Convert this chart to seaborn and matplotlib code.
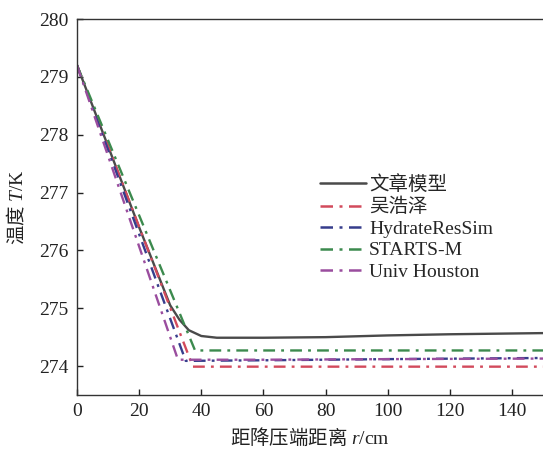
import numpy as np
import pandas as pd
import matplotlib
matplotlib.use("Agg")
import matplotlib.pyplot as plt
import seaborn as sns

# ---- data ----
series_names = ["文章模型", "吴浩泽", "HydrateResSim", "STARTS-M", "Univ Houston"]

x_model = [0, 10, 20, 30, 33, 36, 40, 45, 60, 80, 100, 120, 150]
t_model = [279.2, 277.8, 276.4, 275.05, 274.8, 274.62, 274.52, 274.49, 274.49, 274.5, 274.53, 274.55, 274.57]

x_wu = [0, 37.3, 60, 100, 150]
t_wu = [279.2, 273.99, 273.99, 273.99, 273.99]

x_hrs = [0, 35, 60, 100, 150]
t_hrs = [279.2, 274.09, 274.10, 274.12, 274.14]

x_starts = [0, 38, 60, 100, 150]
t_starts = [279.2, 274.27, 274.27, 274.27, 274.27]

x_houston = [0, 32.5, 60, 100, 150]
t_houston = [279.2, 274.11, 274.11, 274.12, 274.13]

x_ticks = [0, 20, 40, 60, 80, 100, 120, 140]
y_ticks = [274, 275, 276, 277, 278, 279, 280]

# ---- style ----
sns.set_theme(style="white")
plt.rcParams['font.family'] = ['Liberation Serif', 'Noto Sans CJK SC']
plt.rcParams['mathtext.fontset'] = 'custom'
plt.rcParams['mathtext.rm'] = 'Liberation Serif'
plt.rcParams['mathtext.it'] = 'Liberation Serif:italic'
plt.rcParams['axes.unicode_minus'] = False

FS = 14
fig = plt.figure(figsize=(5.43, 4.55), dpi=100)
ax = fig.add_axes([77/543, 1-395/455, 1-77/543, (395-19)/455])

xs = [x_model, x_wu, x_hrs, x_starts, x_houston]
ts = [t_model, t_wu, t_hrs, t_starts, t_houston]
colors = ["#4a4a4a", "#d24a5c", "#363d8c", "#3c8a4e", "#9a4d9e"]
frames = []
for name, xv, tv in zip(series_names, xs, ts):
    frames.append(pd.DataFrame({"r": xv, "T": tv, "series": name}))
df = pd.concat(frames, ignore_index=True)

for i, name in enumerate(series_names):
    sub = df[df["series"] == name]
    sns.lineplot(data=sub, x="r", y="T", ax=ax, color=colors[i], label=name,
                 linewidth=1.7, sort=False, estimator=None)
    line = ax.lines[-1]
    if i > 0:
        line.set_dashes((5, 2.6, 1.2, 2.6))

ax.set_xlim(0, 150)
ax.set_ylim(273.5, 280)
ax.set_xticks(x_ticks)
ax.set_yticks(y_ticks)
ax.tick_params(direction='in', length=4, width=1, labelsize=FS, colors='#222222',
               left=True, bottom=True)
ax.tick_params(axis='y', pad=6)
ax.tick_params(axis='x', pad=6)
for s in ax.spines.values():
    s.set_color('#333333')
    s.set_linewidth(1.0)
ax.spines['right'].set_visible(False)

ax.set_xlabel("距降压端距离 $r\\mathrm{/cm}$", fontsize=FS, color='#222222', labelpad=5,
              fontfamily='Noto Sans CJK SC')
ax.set_ylabel("温度 $T\\mathrm{/K}$", fontsize=FS, color='#222222', labelpad=8,
              fontfamily='Noto Sans CJK SC')

leg = ax.legend(loc='upper left', bbox_to_anchor=(0.504, 0.605), frameon=False,
                fontsize=FS, handlelength=2.4, handletextpad=0.15,
                labelspacing=0.2, borderaxespad=0)
for h in leg.get_lines():
    h.set_linewidth(1.8)

fig.savefig("out.png", dpi=100)
